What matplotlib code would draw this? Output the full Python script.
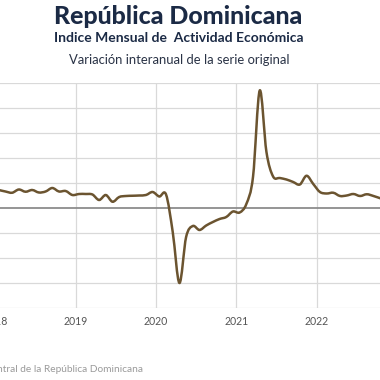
import matplotlib
matplotlib.use("Agg")
import matplotlib.pyplot as plt
from matplotlib.path import Path
from matplotlib.patches import PathPatch
import numpy as np

# ---------------- data ----------------
years = [2018, 2019, 2020, 2021, 2022]
values_2018 = [7.2, 6.6, 6.1, 7.4, 6.5, 7.2, 6.2, 6.6, 8.0, 6.6, 6.8, 5.2]
values_2019 = [5.6, 5.6, 5.4, 3.2, 5.2, 2.5, 4.4, 4.8, 4.9, 5.0, 5.2, 6.4]
values_2020 = [4.6, 5.4, -9.6, -30.0, -11.6, -7.2, -8.8, -7.0, -5.6, -4.4, -3.6, -1.4]
values_2021 = [-1.8, 1.6, 12.5, 47.0, 22.5, 12.6, 12.0, 11.4, 10.4, 9.4, 12.9, 9.6]
values_2022 = [6.4, 5.8, 6.1, 4.8, 5.0, 5.6, 4.8, 5.5, 4.8, 3.9]
tick_years = [2018, 2019, 2020, 2021, 2022]
grid_years = [2018, 2019, 2020, 2021, 2022, 2023]
y_grid = [-40, -30, -20, -10, 0, 10, 20, 30, 40, 50]

title = "República Dominicana"
subtitle = "Indice Mensual de  Actividad Económica"
subtitle2 = "Variación interanual de la serie original"
source = "Fuente: Banco Central de la República Dominicana"

series = values_2018 + values_2019 + values_2020 + values_2021 + values_2022
xs = []
for yi, vals in zip(years, [values_2018, values_2019, values_2020, values_2021, values_2022]):
    for m in range(len(vals)):
        xs.append(yi + (m + 0.5) / 12.0)
xs = np.array(xs)
ys = np.array(series)

W, H = 380, 380
fig = plt.figure(figsize=(W / 100, H / 100), dpi=100)
fig.patch.set_facecolor("white")

NAVY = "#1B2A45"
LINE = "#6B5430"
GRID = "#D9D9D9"

# axes mapping: year 2020 at px 156, 80.3 px per year; plot from y px 83 (50) to 308 (-40)
px_year = 80.3
x0_px, x1_px = -40, 420
top_px, bot_px = 83, 308
ax = fig.add_axes([x0_px / W, (H - bot_px) / H, (x1_px - x0_px) / W, (bot_px - top_px) / H])
ax.set_xlim(2020 - (156 - x0_px) / px_year, 2020 + (x1_px - 156) / px_year)
ax.set_ylim(-40, 50)
for s in ax.spines.values():
    s.set_visible(False)
ax.set_facecolor("white")

for v in y_grid:
    if v == 0:
        continue
    ax.axhline(v, color=GRID, lw=0.9, zorder=1)
for t in grid_years:
    ax.axvline(t, color=GRID, lw=0.9, zorder=1)
ax.axhline(0, color="#8C8C8C", lw=1.3, zorder=2)

ax.set_xticks(tick_years)
ax.set_xticklabels([str(t) for t in tick_years], fontfamily="Lato", fontsize=7.6, color="#555555")
ax.tick_params(axis="x", length=0, pad=6)
ax.set_yticks([])

# smooth (Excel-like) line using cubic Bezier segments through the data points
pts = np.column_stack([xs, ys])
verts = [tuple(pts[0])]
codes = [Path.MOVETO]
n = len(pts)
for i in range(n - 1):
    p0 = pts[i - 1] if i > 0 else pts[i]
    p1 = pts[i]
    p2 = pts[i + 1]
    p3 = pts[i + 2] if i + 2 < n else pts[i + 1]
    c1 = p1 + (p2 - p0) / 6.0
    c2 = p2 - (p3 - p1) / 6.0
    verts += [tuple(c1), tuple(c2), tuple(p2)]
    codes += [Path.CURVE4] * 3
patch = PathPatch(Path(verts, codes), facecolor="none", edgecolor=LINE, lw=1.8,
                  zorder=3, capstyle="round", joinstyle="round")
ax.add_patch(patch)

# ---------------- titles ----------------
renderer = fig.canvas.get_renderer()

def fit(text_obj, target_w):
    bb = text_obj.get_window_extent(renderer)
    fs = text_obj.get_fontsize() * target_w / bb.width
    text_obj.set_fontsize(fs)

t1 = fig.text(178 / W, 1 - 16 / H, title, ha="center", va="center", fontfamily="Lato",
              fontweight="black", color=NAVY, fontsize=15)
fit(t1, 250)
t2 = fig.text(178.5 / W, 1 - 38.5 / H, subtitle, ha="center", va="center", fontfamily="Lato",
              fontweight="bold", color=NAVY, fontsize=9)
fit(t2, 249)
t3 = fig.text(179 / W, 1 - 60.5 / H, subtitle2, ha="center", va="center", fontfamily="Lato",
              color="#2A3346", fontsize=8)
fit(t3, 222)

src = fig.text(143 / W, 1 - 370 / H, source, ha="right", va="center", fontfamily="Lato",
               color="#9A9A9A", fontsize=7)
# fit the visible part "ntral de la República Dominicana" to ~145 px
tmp = fig.text(0, 0, "ntral de la República Dominicana", fontfamily="Lato", fontsize=7)
bb = tmp.get_window_extent(renderer)
src.set_fontsize(7 * 145 / bb.width)
tmp.remove()

fig.savefig("out.png", dpi=100, facecolor="white")
